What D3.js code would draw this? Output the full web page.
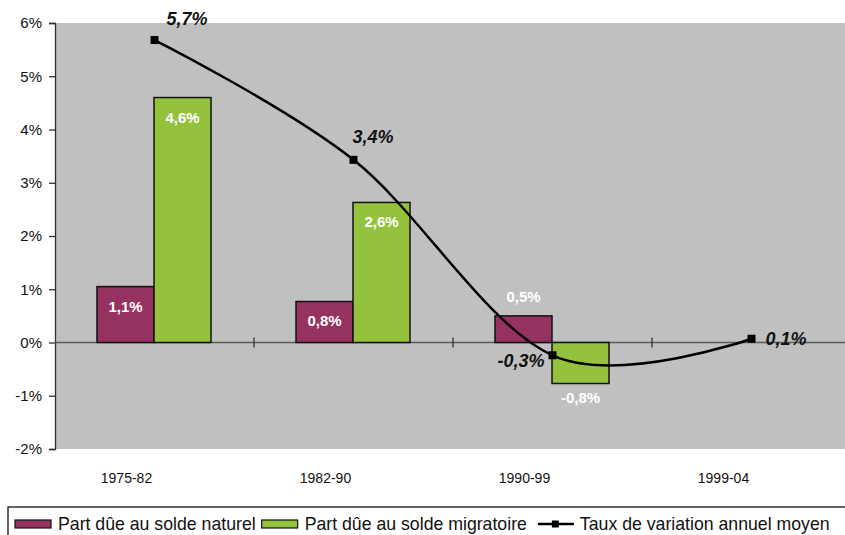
<!DOCTYPE html>
<html><head><meta charset="utf-8">
<script src="https://cdn.jsdelivr.net/npm/d3@7"></script>
<style>
body{margin:0;background:#fff}
text{font-family:"Liberation Sans",Arial,sans-serif}
</style>
</head><body><div id="chart"></div>
<script>
var periods = ["1975-82", "1982-90", "1990-99", "1999-04"];
var naturel = [1.05, 0.77, 0.5, null];
var migratoire = [4.6, 2.63, -0.77, null];
var taux = [5.68, 3.43, -0.24, 0.07];
var naturelLabels = ["1,1%", "0,8%", "0,5%", ""];
var migratoireLabels = ["4,6%", "2,6%", "-0,8%", ""];
var tauxLabels = ["5,7%", "3,4%", "-0,3%", "0,1%"];
var yTicks = [-2, -1, 0, 1, 2, 3, 4, 5, 6];
var legendNames = ["Part dûe au solde naturel", "Part dûe au solde migratoire", "Taux de variation annuel moyen"];

var width = 845, height = 535;
var plotLeft = 55, plotTop = 23, plotBottom = 449;
var purple = "#963260", green = "#95c23d";

var svg = d3.select("#chart").append("svg")
    .attr("width", width)
    .attr("height", height);

var x = d3.scaleBand().domain(periods).range([plotLeft, plotLeft + 4 * 199]);
var x1 = d3.scaleBand().domain(["n", "m"]).range([42, 156]);
var y = d3.scaleLinear().domain([-2, 6]).range([plotBottom, plotTop]);

// plot area
svg.append("rect")
    .attr("x", plotLeft).attr("y", plotTop)
    .attr("width", width - plotLeft).attr("height", plotBottom - plotTop)
    .attr("fill", "#c0c0c0");

// y axis
var yAxis = svg.append("g")
    .attr("transform", "translate(" + plotLeft + ",0)")
    .call(d3.axisLeft(y).tickValues(yTicks).tickSize(6).tickPadding(7)
        .tickFormat(function(d) { return d + "%"; }));
yAxis.select(".domain").attr("stroke", "#303030").attr("stroke-width", 1.3);
yAxis.selectAll(".tick line").attr("stroke", "#303030").attr("stroke-width", 1.3);
yAxis.selectAll("text").attr("font-size", 15).attr("fill", "#111")
    .style("font-family", "'Liberation Sans',Arial,sans-serif");

// zero line and category ticks
svg.append("line")
    .attr("x1", plotLeft).attr("x2", width)
    .attr("y1", y(0)).attr("y2", y(0))
    .attr("stroke", "#5a5a5a").attr("stroke-width", 1.5);
svg.selectAll(".cattick")
    .data(periods.slice(1))
    .enter().append("line")
    .attr("x1", function(d) { return x(d); })
    .attr("x2", function(d) { return x(d); })
    .attr("y1", y(0) - 5).attr("y2", y(0) + 5)
    .attr("stroke", "#303030").attr("stroke-width", 1.3);

// bars
var bars = [
    {key: "n", values: naturel, labels: naturelLabels, color: purple},
    {key: "m", values: migratoire, labels: migratoireLabels, color: green}
];
bars.forEach(function(s) {
    var g = svg.append("g");
    periods.forEach(function(p, i) {
        var v = s.values[i];
        if (v === null) return;
        var bx = x(p) + x1(s.key);
        g.append("rect")
            .attr("x", bx)
            .attr("y", y(Math.max(0, v)))
            .attr("width", x1.bandwidth())
            .attr("height", Math.abs(y(v) - y(0)))
            .attr("fill", s.color)
            .attr("stroke", "#111")
            .attr("stroke-width", 1.5);
        var ly;
        if (v > 0.6) ly = y(v) + 25;
        else if (v > 0) ly = y(v) - 14;
        else ly = y(v) + 19;
        g.append("text")
            .attr("x", bx + x1.bandwidth() / 2)
            .attr("y", ly)
            .attr("text-anchor", "middle")
            .attr("font-size", 15)
            .attr("font-weight", "bold")
            .attr("fill", "#fff")
            .text(s.labels[i]);
    });
});

// line
var lineOffsets = [[12, -15, "start"], [-1, -17, "start"], [-8, 12, "end"], [14, 6, "start"]];
var cx = function(i) { return x(periods[i]) + x.bandwidth() / 2; };
var line = d3.line()
    .x(function(d, i) { return cx(i); })
    .y(function(d) { return y(d); })
    .curve(d3.curveCardinal.tension(0));
svg.append("path")
    .datum(taux)
    .attr("d", line)
    .attr("fill", "none")
    .attr("stroke", "#000")
    .attr("stroke-width", 2.5);
svg.selectAll(".mark")
    .data(taux)
    .enter().append("rect")
    .attr("x", function(d, i) { return cx(i) - 4; })
    .attr("y", function(d) { return y(d) - 4; })
    .attr("width", 8).attr("height", 8)
    .attr("fill", "#000");
svg.selectAll(".tlabel")
    .data(taux)
    .enter().append("text")
    .attr("x", function(d, i) { return cx(i) + lineOffsets[i][0]; })
    .attr("y", function(d, i) { return y(d) + lineOffsets[i][1]; })
    .attr("text-anchor", function(d, i) { return lineOffsets[i][2]; })
    .attr("font-size", 18)
    .attr("font-weight", "bold")
    .attr("font-style", "italic")
    .attr("fill", "#111")
    .text(function(d, i) { return tauxLabels[i]; });

// category labels
svg.selectAll(".cat")
    .data(periods)
    .enter().append("text")
    .attr("x", function(d) { return x(d) + x.bandwidth() / 2 - 28; })
    .attr("y", 483)
    .attr("text-anchor", "middle")
    .attr("font-size", 14)
    .attr("fill", "#111")
    .text(function(d) { return d; });

// legend
svg.append("rect")
    .attr("x", 8).attr("y", 507)
    .attr("width", 850).attr("height", 40)
    .attr("fill", "#fff").attr("stroke", "#111").attr("stroke-width", 1.3);
var lx = 15;
legendNames.forEach(function(name, i) {
    var off = 43;
    if (i < 2) {
        svg.append("rect")
            .attr("x", lx).attr("y", 520)
            .attr("width", 36).attr("height", 8)
            .attr("fill", i === 0 ? purple : green)
            .attr("stroke", "#111").attr("stroke-width", 1.2);
    } else {
        lx += 5;
        off = 42;
        svg.append("line")
            .attr("x1", lx).attr("x2", lx + 36)
            .attr("y1", 524).attr("y2", 524)
            .attr("stroke", "#000").attr("stroke-width", 2.5);
        svg.append("rect")
            .attr("x", lx + 14).attr("y", 520.5)
            .attr("width", 7).attr("height", 7)
            .attr("fill", "#000");
    }
    var t = svg.append("text")
        .attr("x", lx + off).attr("y", 530)
        .attr("font-size", 17.7)
        .attr("fill", "#111")
        .text(name);
    lx += off + t.node().getComputedTextLength() + 6;
});
</script>
</body></html>
